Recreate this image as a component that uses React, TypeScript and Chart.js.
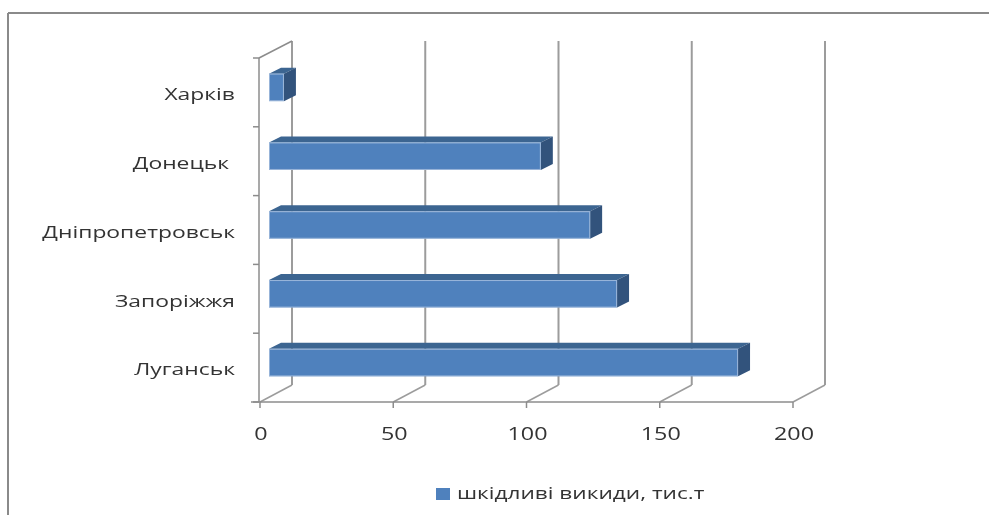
import React, { useEffect, useRef } from "react";
import { Chart, registerables } from "chart.js";

Chart.register(...registerables);

const categories = ["Харків", "Донецьк ", "Дніпропетровськ", "Запоріжжя", "Луганськ"];
const emissions = [5.6, 102, 120.5, 130.6, 176];
const xTicks = [0, 50, 100, 150, 200];
const seriesLabel = "шкідливі викиди, тис.т";

const FONT = '"Open Sans", sans-serif';
const TEXT_COLOR = "#333333";
const SX = 1.33;

function drawText(ctx: CanvasRenderingContext2D, text: string, x: number, y: number, align: CanvasTextAlign, size: number) {
  ctx.save();
  ctx.translate(x, y);
  ctx.scale(SX, 1);
  ctx.font = `${size}px ${FONT}`;
  ctx.fillStyle = TEXT_COLOR;
  ctx.textAlign = align;
  ctx.textBaseline = "middle";
  ctx.fillText(text, 0, 0);
  ctx.restore();
}

function line(ctx: CanvasRenderingContext2D, x1: number, y1: number, x2: number, y2: number) {
  ctx.beginPath();
  ctx.moveTo(x1, y1);
  ctx.lineTo(x2, y2);
  ctx.stroke();
}

const DX = 32;
const DY = -17;
const FX = 9;
const FY = -5;
const BX = 12;
const BY = -6;

const plot3d = {
  id: "plot3d",
  beforeDatasetsDraw(chart: any) {
    const ctx: CanvasRenderingContext2D = chart.ctx;
    const { left, right, top, bottom } = chart.chartArea;
    const xs = chart.scales.x;
    ctx.save();
    // outer frame
    ctx.strokeStyle = "#8a8a8a";
    ctx.lineWidth = 2;
    line(ctx, 8, 13, 989, 13);
    line(ctx, 8, 13, 8, 515);
    // back wall gridlines
    ctx.strokeStyle = "#9c9c9c";
    ctx.lineWidth = 2;
    xTicks.forEach((v) => {
      const px = xs.getPixelForValue(v);
      line(ctx, px + DX, top + DY, px + DX, bottom + DY);
      ctx.lineWidth = 1.5;
      line(ctx, px, bottom, px + DX, bottom + DY);
      ctx.lineWidth = 2;
    });
    // left wall
    ctx.strokeStyle = "#8c8c8c";
    ctx.lineWidth = 1.5;
    line(ctx, left - 1, top, left - 1, bottom);
    line(ctx, left - 1, top, left + DX, top + DY);
    // front axis
    line(ctx, left - 9, bottom, right, bottom);
    for (let i = 0; i <= categories.length; i++) {
      const y = top + (i * (bottom - top)) / categories.length;
      line(ctx, left - 7, y, left - 1, y);
    }
    xTicks.forEach((v) => {
      const px = xs.getPixelForValue(v);
      line(ctx, px, bottom, px, bottom + 6);
    });
    ctx.restore();
  },
  afterDatasetsDraw(chart: any) {
    const ctx: CanvasRenderingContext2D = chart.ctx;
    const { bottom } = chart.chartArea;
    const xs = chart.scales.x;
    const ys = chart.scales.y;
    const meta = chart.getDatasetMeta(0);
    ctx.save();
    meta.data.forEach((el: any) => {
      const p = el.getProps(["x", "y", "base", "height"], true);
      const x0 = p.base + FX;
      const x1 = p.x + FX;
      const yt = p.y - p.height / 2 + FY;
      const yb = p.y + p.height / 2 + FY;
      // top face
      ctx.fillStyle = "#3c6591";
      ctx.beginPath();
      ctx.moveTo(x0, yt);
      ctx.lineTo(x0 + BX, yt + BY);
      ctx.lineTo(x1 + BX, yt + BY);
      ctx.lineTo(x1, yt);
      ctx.closePath();
      ctx.fill();
      // side face
      ctx.fillStyle = "#32537c";
      ctx.beginPath();
      ctx.moveTo(x1, yt);
      ctx.lineTo(x1 + BX, yt + BY);
      ctx.lineTo(x1 + BX, yb + BY);
      ctx.lineTo(x1, yb);
      ctx.closePath();
      ctx.fill();
      // front face
      ctx.fillStyle = "#4f81bd";
      ctx.fillRect(x0, yt, x1 - x0, yb - yt);
      ctx.strokeStyle = "rgba(200,215,235,0.6)";
      ctx.lineWidth = 1;
      ctx.strokeRect(x0 + 0.5, yt + 0.5, x1 - x0 - 1, yb - yt - 1);
    });
    // category labels
    categories.forEach((c, i) => {
      const y = ys.getPixelForValue(i);
      drawText(ctx, c, 235, y + 3, "right", 17.2);
    });
    // x tick labels
    xTicks.forEach((v) => {
      drawText(ctx, String(v), xs.getPixelForValue(v) + 1, bottom + 33, "center", 17.5);
    });
    // legend
    ctx.fillStyle = "#4f81bd";
    ctx.fillRect(436, 488, 14, 12);
    drawText(ctx, seriesLabel, 457, 494, "left", 17);
    ctx.restore();
  },
};

export default function App() {
  const ref = useRef<HTMLCanvasElement | null>(null);
  useEffect(() => {
    if (!ref.current) return;
    const chart = new Chart(ref.current, {
      type: "bar",
      data: {
        labels: categories,
        datasets: [
          {
            label: seriesLabel,
            data: emissions,
            backgroundColor: "rgba(0,0,0,0)",
            borderWidth: 0,
            barPercentage: 0.4,
            categoryPercentage: 1,
          },
        ],
      },
      options: {
        indexAxis: "y",
        responsive: false,
        animation: false,
        layout: { padding: { left: 260, right: 196, top: 58, bottom: 113 } },
        scales: {
          x: { type: "linear", min: 0, max: 200, display: false, ticks: { stepSize: 50 } },
          y: { display: false },
        },
        plugins: { legend: { display: false }, tooltip: { enabled: false } },
      },
      plugins: [plot3d],
    });
    return () => chart.destroy();
  }, []);
  return (
    <div style={{ position: "absolute", left: 0, top: 0, width: 989, height: 515, background: "#fff" }}>
      <canvas ref={ref} width={989} height={515} style={{ width: 989, height: 515 }} />
    </div>
  );
}
